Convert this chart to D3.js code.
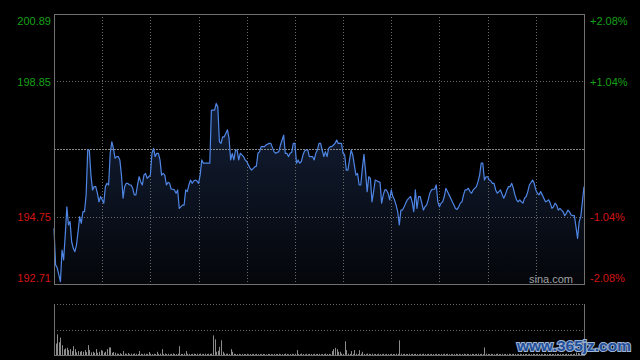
<!DOCTYPE html>
<html>
<head>
<meta charset="utf-8">
<script src="https://cdn.jsdelivr.net/npm/d3@7"></script>
<style>
  html, body { margin: 0; padding: 0; background: #000; }
  svg { display: block; }
</style>
</head>
<body>
<svg id="chart" width="640" height="360"></svg>
<script>
// ---------------- DATA ----------------
const prevClose = 196.80;
const priceTicks = [200.89, 198.85, 194.75, 192.71];
const pctTicks = [2.08, 1.04, -1.04, -2.08];
const timeGrid = [30, 60, 90, 120, 150, 180, 210, 240, 270, 300];

// minute index (HK session, 0..330) and price
const minutes = [0,1,2,4,5,6,7,8,9,10,11,12,13,14,15,16,17,18,19,20,21,22,23,24,25,26,27,28,29,30,31,32,33,34,35,36,37,38,39,40,41,42,43,44,45,46,47,48,49,50,51,52,53,54,55,56,57,58,59,60,61,62,63,64,65,66,67,68,69,70,71,72,73,74,75,76,77,78,80,81,82,83,84,85,86,87,88,89,90,91,92,93,95,97,98,100,101,102,103,104,105,106,107,108,109,110,111,112,113,114,115,116,117,118,119,120,121,122,123,125,126,127,128,129,130,131,132,134,135,137,138,140,141,143,144,145,146,147,148,149,150,151,152,153,154,155,156,157,158,159,160,161,162,163,164,165,166,167,168,169,170,171,172,173,174,175,176,177,178,179,180,181,182,183,184,185,186,187,188,189,190,191,192,193,194,195,196,197,198,199,200,202,203,204,205,206,207,208,209,210,211,212,213,214,215,216,217,218,219,220,221,222,223,224,225,226,227,228,229,230,231,232,233,234,235,236,237,238,239,240,241,242,243,244,245,246,247,248,249,250,251,252,253,254,255,256,257,258,259,260,261,263,264,265,266,267,268,269,270,271,272,273,274,275,276,277,278,279,280,281,282,283,284,285,286,287,288,289,290,291,292,293,294,295,296,298,299,300,301,302,303,304,305,306,307,308,309,310,311,312,313,314,315,316,317,318,319,320,321,322,323,324,325,326,327,328,329,330];
const prices = [194.40,193.29,193.20,192.78,193.74,193.44,194.19,195.05,194.50,194.60,193.99,193.79,193.69,193.89,194.30,194.75,194.55,194.90,194.90,195.41,196.77,196.77,196.01,195.56,195.66,195.66,195.46,195.20,195.36,195.26,195.16,195.66,195.76,195.71,196.67,197.02,196.82,196.52,196.57,196.57,196.47,196.01,195.31,195.66,195.76,195.76,195.71,195.71,195.61,195.41,195.41,195.71,195.96,195.81,195.71,196.01,196.06,195.91,195.96,196.01,196.67,196.82,196.57,196.67,196.67,196.47,196.01,196.06,196.01,195.71,195.79,195.76,195.58,195.58,195.56,195.46,195.56,195.00,195.10,195.10,195.56,195.51,195.71,195.86,195.76,195.83,195.86,195.83,195.76,196.01,196.47,196.37,196.37,196.37,197.98,197.98,198.18,198.08,197.02,196.97,197.17,197.17,197.28,197.38,197.12,196.47,196.67,196.47,196.77,196.77,196.47,196.67,196.62,196.57,196.47,196.42,196.32,196.23,196.16,196.26,196.28,196.67,196.72,196.87,196.87,196.87,196.92,196.97,196.97,196.72,196.67,196.72,196.92,197.22,196.67,196.67,196.57,196.67,196.70,196.97,196.97,196.37,196.47,196.37,196.42,196.62,196.74,196.77,196.77,196.57,196.57,196.57,196.47,196.67,196.77,196.97,196.97,196.77,196.57,196.72,196.57,196.82,196.87,196.87,196.92,196.97,197.07,196.97,196.97,196.97,196.67,196.62,196.16,196.16,196.47,196.77,196.62,196.32,196.01,196.06,195.71,195.71,196.22,196.64,196.11,195.51,195.96,195.91,195.20,195.51,195.86,195.81,195.79,195.16,195.41,195.56,195.56,195.46,195.26,195.56,195.36,195.26,195.10,194.90,194.50,194.95,194.95,195.05,195.16,195.26,195.31,195.36,195.20,194.90,195.56,195.00,195.36,195.36,195.16,194.95,195.05,195.10,195.26,195.46,195.56,195.58,195.58,195.71,195.20,195.05,195.16,195.20,195.36,195.61,195.51,195.41,195.31,195.20,195.10,195.00,194.97,195.05,195.16,195.20,195.41,195.56,195.56,195.61,195.51,195.46,195.56,195.66,195.81,196.01,196.37,196.37,195.86,195.96,195.96,195.86,195.83,195.76,195.76,195.56,195.46,195.51,195.56,195.43,195.31,195.41,195.56,195.66,195.66,195.76,195.61,195.41,195.26,195.20,195.26,195.20,195.16,195.31,195.36,195.51,195.71,195.86,195.76,195.56,195.46,195.41,195.51,195.41,195.31,195.20,195.22,195.26,195.16,195.00,195.05,195.16,195.10,194.95,195.00,194.95,194.90,194.78,194.85,194.95,194.90,194.80,194.78,194.78,194.45,194.09,194.60,194.75,195.20,195.66];

// volume per minute 0..330
const volumes = [
1000,1170,2100,1300,1770,1000,570,670,730,500,
600,400,900,600,270,400,330,400,330,500,
300,1000,500,270,330,230,600,230,330,500,
430,230,330,600,770,770,230,300,230,150,
120,180,100,400,150,120,200,90,140,110,
160,120,100,400,130,90,150,120,110,300,
140,100,130,90,330,120,150,600,110,140,
100,130,90,120,160,110,100,140,900,120,
100,150,400,130,110,90,120,140,100,130,
110,150,90,120,140,100,130,110,150,2000,
1600,330,430,830,1500,330,150,120,140,110,
600,330,130,100,90,120,80,110,100,90,
120,80,100,90,110,80,120,90,100,80,
110,90,80,120,100,90,80,110,90,100,
120,80,100,90,140,110,80,100,120,90,
130,500,110,90,150,100,80,120,90,110,
100,80,130,90,110,120,80,100,90,140,
100,120,90,400,600,730,600,330,330,150,
120,1400,500,130,110,400,120,500,140,100,
500,130,330,110,90,150,120,100,140,90,
110,80,130,100,90,120,80,110,100,90,
120,100,90,130,110,1500,140,100,120,90,
100,130,80,110,90,120,100,80,110,90,
130,100,90,120,80,110,100,90,120,100,
80,110,90,130,100,120,80,110,90,100,
120,90,110,80,100,130,90,110,100,80,
120,100,90,110,130,100,120,90,770,140,
110,90,120,100,80,110,130,90,100,120,
90,110,80,130,100,90,120,110,80,100,
130,90,110,100,120,80,110,90,130,100,
90,120,100,110,80,130,100,90,110,120,
100,90,130,110,100,120,90,110,100,130,
110,90,120,100,130,250,200,150,180,220,300];
const volumeMax = 5200;

// ---------------- DRAW ----------------
const svg = d3.select("#chart");
svg.append("rect").attr("width", 640).attr("height", 360).attr("fill", "#000");

const L = 54, R = 584, T = 14, B = 284;
const VT = 304, VB = 355;

const x = d3.scaleLinear().domain([0, 330]).range([L, R]);
const y = d3.scaleLinear().domain([192.71, 200.89]).range([B, T]);
const yPct = d3.scaleLinear().domain([-2.08, 2.08]).range([B, T]);
const yVol = d3.scaleLinear().domain([0, volumeMax]).range([VB, VT]);

const px = v => Math.round(v) + 0.5;
const font = "'Liberation Sans', Arial, sans-serif";

// gradient
const defs = svg.append("defs");
const grad = defs.append("linearGradient").attr("id", "fillGrad")
  .attr("gradientUnits", "userSpaceOnUse")
  .attr("x1", 0).attr("x2", 0).attr("y1", T).attr("y2", B);
grad.append("stop").attr("offset", "0%").attr("stop-color", "#1b2b4c");
grad.append("stop").attr("offset", "100%").attr("stop-color", "#04060a");

const pts = minutes.map((m, i) => ({ m, p: prices[i] }));

// area
svg.append("path").datum(pts)
  .attr("fill", "url(#fillGrad)")
  .attr("d", d3.area().x(d => x(d.m)).y0(B).y1(d => y(d.p)));

// vertical grid (main)
svg.append("g").selectAll("line").data(timeGrid).join("line")
  .attr("x1", d => px(x(d))).attr("x2", d => px(x(d)))
  .attr("y1", T).attr("y2", B)
  .attr("stroke", "#6a6a6a").attr("stroke-width", 1).attr("stroke-dasharray", "1,2");

// horizontal grid (main)
svg.append("g").selectAll("line").data([198.85, 194.75]).join("line")
  .attr("x1", L).attr("x2", R)
  .attr("y1", d => px(y(d))).attr("y2", d => px(y(d)))
  .attr("stroke", "#6a6a6a").attr("stroke-width", 1).attr("stroke-dasharray", "1,2");
svg.append("line")
  .attr("x1", L).attr("x2", R)
  .attr("y1", px(y(prevClose))).attr("y2", px(y(prevClose)))
  .attr("stroke", "#8a8a8a").attr("stroke-width", 1).attr("stroke-dasharray", "2,1");

// price line
svg.append("path").datum(pts)
  .attr("fill", "none").attr("stroke", "#4f86e6").attr("stroke-width", 1.2)
  .attr("stroke-linejoin", "round")
  .attr("d", d3.line().x(d => x(d.m)).y(d => y(d.p)));

// main border
svg.append("rect").attr("x", L + 0.5).attr("y", T + 0.5)
  .attr("width", R - L).attr("height", B - T)
  .attr("fill", "none").attr("stroke", "#707070");

// left axis
const gL = svg.append("g").attr("transform", `translate(${L},0)`)
  .call(d3.axisLeft(y).tickValues(priceTicks).tickSize(0).tickPadding(3).tickFormat(d3.format(".2f")));
gL.select(".domain").remove();
gL.selectAll("text")
  .attr("font-family", font).attr("font-size", 11)
  .attr("fill", d => d > prevClose ? "#17a017" : "#d41414")
  .attr("dy", d => d === 200.89 ? "0.95em" : d === 192.71 ? "-0.25em" : "0.35em");

// right axis
const gR = svg.append("g").attr("transform", `translate(${R},0)`)
  .call(d3.axisRight(yPct).tickValues(pctTicks).tickSize(0).tickPadding(6)
    .tickFormat(d => (d > 0 ? "+" : "") + d.toFixed(2) + "%"));
gR.select(".domain").remove();
gR.selectAll("text")
  .attr("font-family", font).attr("font-size", 11)
  .attr("fill", d => d > 0 ? "#17a017" : "#d41414")
  .attr("dy", d => d === 2.08 ? "0.95em" : d === -2.08 ? "-0.25em" : "0.35em");

// sina.com
svg.append("text").attr("x", R - 11).attr("y", B - 1)
  .attr("text-anchor", "end").attr("font-family", font).attr("font-size", 11)
  .attr("fill", "#a0a0a0").text("sina.com");

// volume panel
svg.append("g").selectAll("line").data([volumeMax, volumeMax / 2]).join("line")
  .attr("x1", L).attr("x2", R)
  .attr("y1", d => px(yVol(d))).attr("y2", d => px(yVol(d)))
  .attr("stroke", "#6a6a6a").attr("stroke-dasharray", "1,2");
svg.append("g").selectAll("line").data(volumes).join("line")
  .attr("x1", (d, i) => px(x(i))).attr("x2", (d, i) => px(x(i)))
  .attr("y1", VB).attr("y2", d => yVol(d))
  .attr("stroke", "#8c8c8c").attr("stroke-width", 1);
svg.append("line").attr("x1", L + 0.5).attr("x2", L + 0.5).attr("y1", VT).attr("y2", VB + 1)
  .attr("stroke", "#707070");
svg.append("line").attr("x1", R + 0.5).attr("x2", R + 0.5).attr("y1", VT).attr("y2", VB + 1)
  .attr("stroke", "#707070");
svg.append("line").attr("x1", L).attr("x2", R + 1).attr("y1", VB + 0.5).attr("y2", VB + 0.5)
  .attr("stroke", "#707070");

// watermark
svg.append("text").attr("x", 517).attr("y", 351)
  .attr("font-family", "'Liberation Sans', Arial, sans-serif").attr("font-weight", "bold")
  .attr("font-size", 15.5)
  .attr("fill", "#1f4f9a").attr("stroke", "#9fb3d3").attr("stroke-width", 2)
  .attr("paint-order", "stroke")
  .text("www.365jz.com");
</script>
</body>
</html>
